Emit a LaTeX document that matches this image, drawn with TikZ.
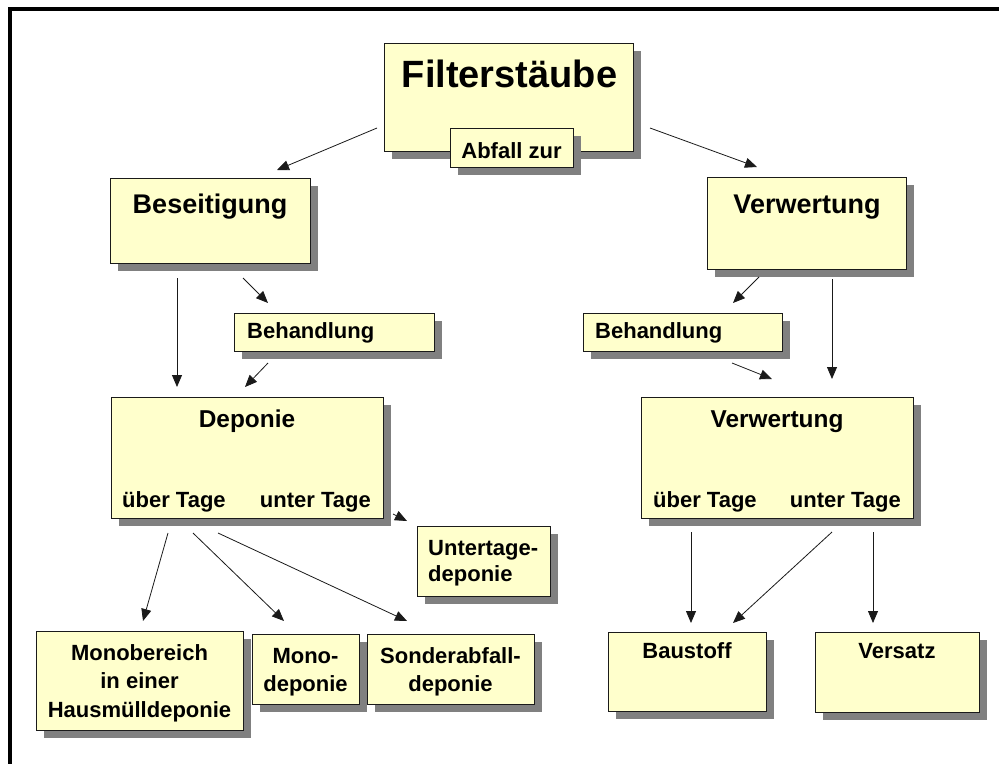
\documentclass[tikz,border=0pt]{standalone}
\usepackage{fontspec}
\setmainfont{Liberation Sans}
\usetikzlibrary{arrows.meta,shadows,calc}
\definecolor{boxfill}{HTML}{FFFFCC}
\definecolor{shadowgray}{HTML}{808080}
\definecolor{linecol}{HTML}{1A1A1A}
\begin{document}
\begin{tikzpicture}[x=1pt,y=-1pt,
  box/.style={draw=linecol, line width=0.9pt, fill=boxfill, anchor=north west,
    inner sep=0pt, outer sep=0pt,
    drop shadow={shadow xshift=8pt, shadow yshift=-8pt, fill=shadowgray, opacity=1}},
  arr/.style={draw=linecol, line width=0.8pt, -{Triangle[length=12pt,width=10pt]}},
  ftbig/.style={font=\bfseries\fontsize{38}{46}\selectfont, inner sep=0pt, anchor=base},
  fthead/.style={font=\bfseries\fontsize{27}{32}\selectfont, inner sep=0pt, anchor=base},
  ftmid/.style={font=\bfseries\fontsize{24.4}{29}\selectfont, inner sep=0pt, anchor=base},
  ftsmall/.style={font=\bfseries\fontsize{22}{28}\selectfont, inner sep=0pt, anchor=base},
]
\useasboundingbox (0,0) rectangle (999,764);
\fill[white] (0,0) rectangle (999,764);
\draw[line width=4pt, miter limit=10] (999,8.5) -- (9.5,8.5) -- (9.5,764);

% boxes
\node[box, minimum width=249pt, minimum height=108pt] (filter) at (384,43) {};
\node[box, minimum width=123pt, minimum height=39pt] (abfall) at (450,128) {};
\node[box, minimum width=200pt, minimum height=85pt] (bes) at (110,178) {};
\node[box, minimum width=199pt, minimum height=92pt] (verw) at (707,177) {};
\node[box, minimum width=200pt, minimum height=38pt] (behL) at (234,313) {};
\node[box, minimum width=199pt, minimum height=38pt] (behR) at (583,313) {};
\node[box, minimum width=272pt, minimum height=121pt] (dep) at (111,397) {};
\node[box, minimum width=272pt, minimum height=121pt] (verw2) at (641,397) {};
\node[box, minimum width=133pt, minimum height=70pt] (unt) at (417,526) {};
\node[box, minimum width=207pt, minimum height=99pt] (monob) at (36,631) {};
\node[box, minimum width=107pt, minimum height=70pt] (monod) at (252,634) {};
\node[box, minimum width=167pt, minimum height=70pt] (sond) at (367,634) {};
\node[box, minimum width=158pt, minimum height=79pt] (baust) at (608,632) {};
\node[box, minimum width=164pt, minimum height=80pt] (vers) at (815,632) {};

% texts
\node[ftbig] (tfilter) at (509.5,87) {Filterstäube};
\node[ftsmall] (tabfall) at (511.5,158) {Abfall zur};
\node[fthead] (tbes) at (210,213) {Beseitigung};
\node[fthead] (tverw) at (807,213) {Verwertung};
\node[ftsmall, anchor=base west] (tbehL) at (247,338) {Behandlung};
\node[ftsmall, anchor=base west] (tbehR) at (595,338) {Behandlung};
\node[ftmid] (tdep) at (247,427) {Deponie};
\node[ftsmall, anchor=base west] (tdepu) at (122,507) {über Tage};
\node[ftsmall, anchor=base east] (tdepo) at (371,507) {unter Tage};
\node[ftmid] (tverw2) at (777,427) {Verwertung};
\node[ftsmall, anchor=base west] (tverwu) at (653,507) {über Tage};
\node[ftsmall, anchor=base east] (tverwo) at (901,507) {unter Tage};
\node[ftsmall, anchor=base west, align=left, font=\bfseries\fontsize{22}{26}\selectfont] (tunt) at (428,581) {Untertage-\\deponie};
\node[ftsmall, align=center, font=\bfseries\fontsize{22}{28.5}\selectfont] (tmonob) at (139.5,717) {Monobereich\\in einer\\Hausmülldeponie};
\node[ftsmall, align=center] (tmonod) at (305.5,691) {Mono-\\deponie};
\node[ftsmall, align=center] (tsond) at (450.5,691) {Sonderabfall-\\deponie};
\node[ftsmall] (tbaust) at (687,658) {Baustoff};
\node[ftsmall] (tvers) at (897,658) {Versatz};

% connectors
\draw[arr] ($(filter.north west)+(-7,85)$) -- ($(bes.north west)+(167,-8)$);
\draw[arr] ($(filter.north east)+(17,85)$) -- ($(verw.north west)+(50,-10)$);
\draw[arr] ($(bes.south west)+(67,15)$) -- ($(dep.north west)+(66,-10)$);
\draw[arr] ($(bes.south west)+(133,15)$) -- ($(behL.north west)+(34,-10)$);
\draw[arr] ($(behL.south west)+(34,12)$) -- ($(dep.north west)+(134,-10)$);
\draw[arr] ($(verw.south west)+(52,8)$) -- ($(behR.north west)+(150,-10)$);
\draw[arr] ($(verw.south west)+(125,10)$) -- ($(verw2.north west)+(191,-18)$);
\draw[arr] ($(behR.south west)+(149,12)$) -- ($(verw2.north west)+(131,-18)$);
\draw[arr] ($(dep.south east)+(10,-4)$) -- ($(unt.north west)+(-10,-5)$);
\draw[arr] ($(dep.south west)+(57,15)$) -- ($(monob.north west)+(107,-10)$);
\draw[arr] ($(dep.south west)+(82,15)$) -- ($(monod.north west)+(32,-13)$);
\draw[arr] ($(dep.south west)+(107,15)$) -- ($(sond.north west)+(40,-13)$);
\draw[arr] ($(verw2.south west)+(50,14)$) -- ($(baust.north west)+(83,-9)$);
\draw[arr] ($(verw2.south west)+(191,14)$) -- ($(baust.north west)+(125,-9)$);
\draw[arr] ($(verw2.south west)+(232,14)$) -- ($(vers.north west)+(58,-9)$);
\end{tikzpicture}
\end{document}
